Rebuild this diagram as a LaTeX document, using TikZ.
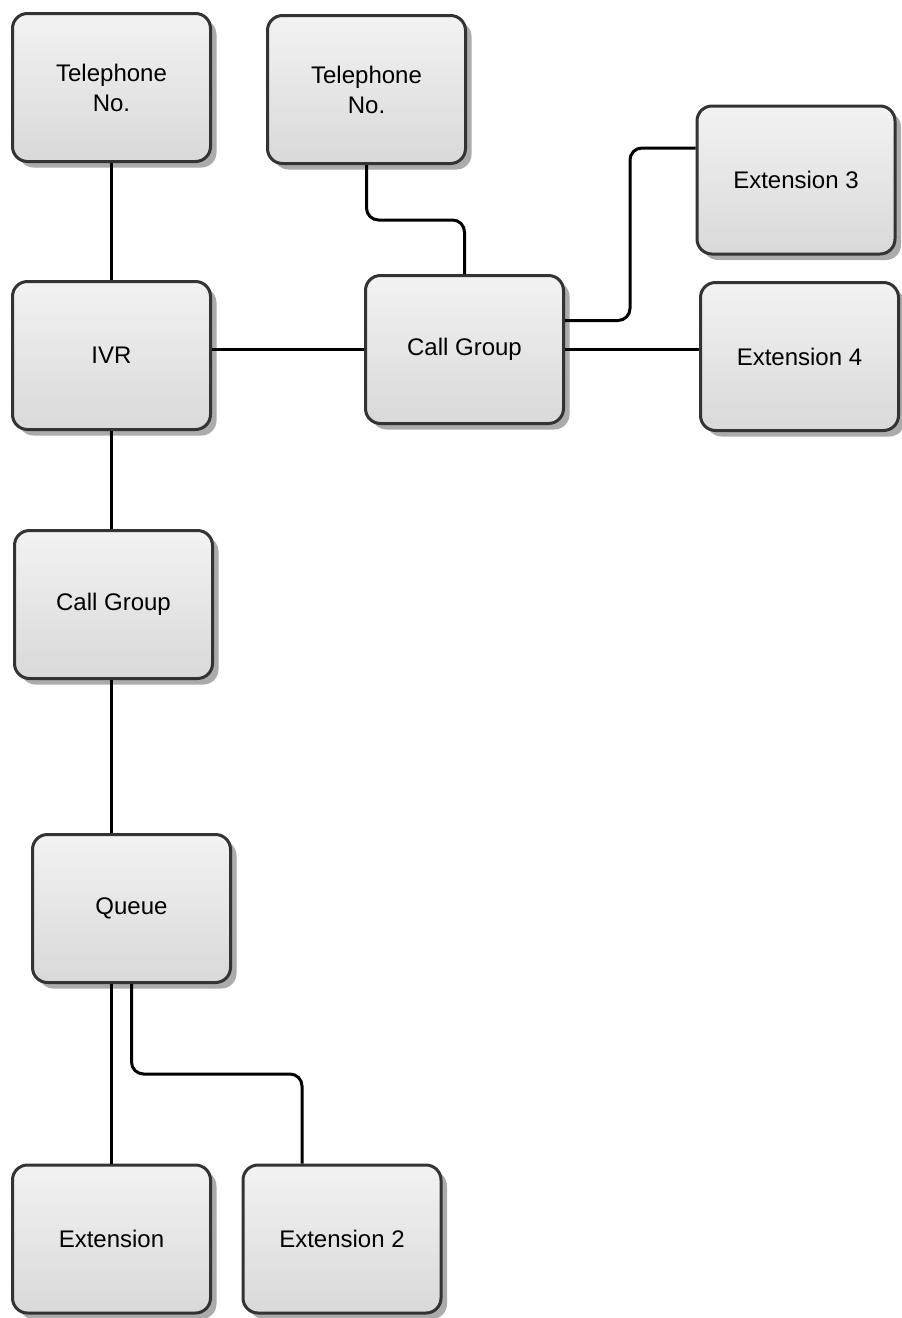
\documentclass[tikz,border=0pt]{standalone}
\usepackage{fontspec}
\setmainfont{Liberation Sans}
\usetikzlibrary{shadows}

\tikzset{
  box/.style={draw=black!80, line width=1.5pt, rounded corners=7.5pt,
    top color=black!5, bottom color=black!15,
    minimum width=99pt, minimum height=74pt, align=center,
    font=\fontsize{12}{15}\selectfont,
    drop shadow={shadow xshift=3pt, shadow yshift=-3pt, fill=black!33, opacity=1}},
  link/.style={line width=1.5pt, rounded corners=6pt}
}

\begin{document}
\begin{tikzpicture}[x=0.5pt, y=-0.5pt]
    \useasboundingbox (0,0) rectangle (901,1318);

    % boxes
    \node[box] (tel1) at (111.5,87.5) {Telephone\\No.};
    \node[box] (tel2) at (366.5,89.5) {Telephone\\No.};
    \node[box] (ext3) at (796,180) {Extension 3};
    \node[box] (ivr) at (111.5,355.5) {IVR};
    \node[box] (cgb) at (464.5,349.5) {Call Group};
    \node[box] (ext4) at (799.5,356.5) {Extension 4};
    \node[box] (cga) at (113.5,604.5) {Call Group};
    \node[box] (queue) at (131.5,908.5) {Queue};
    \node[box] (ext1) at (111.5,1239) {Extension};
    \node[box] (ext2) at (342,1239) {Extension 2};

    % links
    \draw[link] (tel1) -- (ivr);
    \draw[link] (tel2.south) -- ++(0,55) -| (cgb.north);
    \draw[link] (ivr.east |- cgb.west) -- (cgb.west);
    \draw[link] ([yshift=14.5pt]cgb.east) -- ++(65,0) |- ([yshift=16pt]ext3.west);
    \draw[link] (cgb.east) -- (cgb.east -| ext4.west);
    \draw[link] (ivr.south) -- (ivr.south |- cga.north);
    \draw[link] ([xshift=-1pt]cga.south) -- ([xshift=-1pt]cga.south |- queue.north);
    \draw[link] (queue.south -| ext1.north) -- (ext1.north);
    \draw[link] (queue.south) -- ++(0,90) -| ([xshift=-20pt]ext2.north);

\end{tikzpicture}
\end{document}
